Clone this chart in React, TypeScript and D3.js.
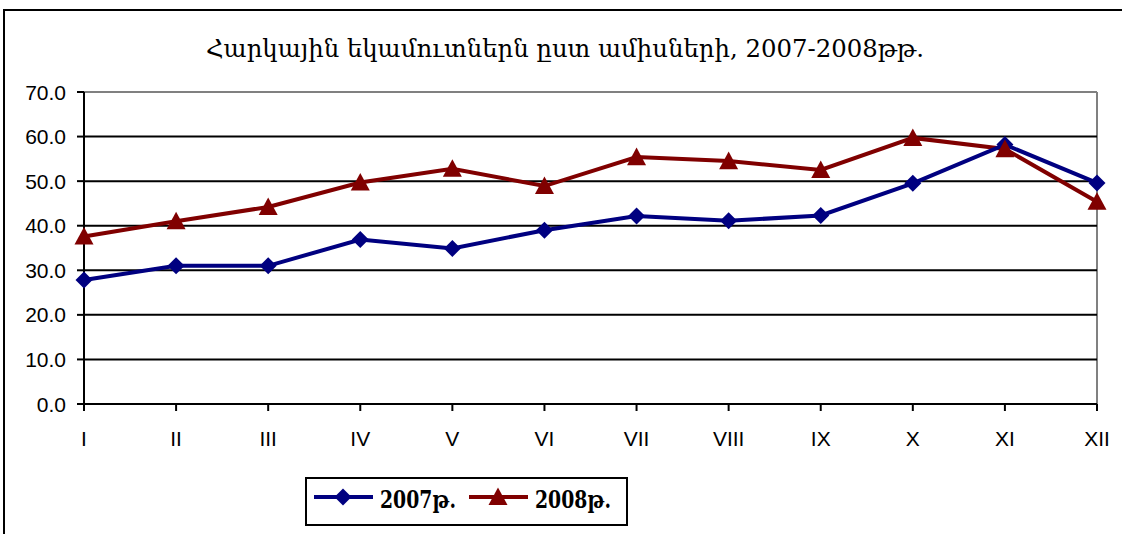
import React from "react";
import * as d3 from "d3";

// months (roman numerals) and tax revenue per month
const months = ["I", "II", "III", "IV", "V", "VI", "VII", "VIII", "IX", "X", "XI", "XII"];
const revenue2007 = [27.8, 31.0, 31.0, 36.9, 34.9, 39.0, 42.2, 41.1, 42.3, 49.5, 58.2, 49.6];
const revenue2008 = [37.6, 41.0, 44.2, 49.7, 52.8, 48.9, 55.4, 54.5, 52.5, 59.7, 57.2, 45.4];
const yTicks = [0, 10, 20, 30, 40, 50, 60, 70];

const W = 1122;
const H = 534;
const BLUE = "#000080";
const RED = "#800000";

export default function App() {
  const x = d3.scalePoint<string>().domain(months).range([84, 1097]);
  const y = d3.scaleLinear().domain([0, 70]).range([404, 92]);

  const line = d3
    .line<number>()
    .x((d, i) => x(months[i]) as number)
    .y((d) => y(d));

  const diamond = (cx: number, cy: number, r = 8.5) =>
    `M${cx},${cy - r}L${cx + r},${cy}L${cx},${cy + r}L${cx - r},${cy}Z`;
  const triangle = (cx: number, cy: number, r = 9.5) =>
    `M${cx},${cy - r}L${cx + r},${cy + r * 0.85}L${cx - r},${cy + r * 0.85}Z`;

  const axisFont = "'Liberation Sans', Arial, sans-serif";
  const serif = "'DejaVu Serif', 'Liberation Serif', serif";

  return (
    <svg
      width={W}
      height={H}
      style={{ position: "absolute", left: 0, top: 0, background: "#fff" }}
    >
      {/* outer chart frame */}
      <rect x={4} y={10} width={W + 10} height={H + 10} fill="#fff" stroke="#000" strokeWidth={2} />

      {/* title */}
      <text
        x={565}
        y={57}
        textAnchor="middle"
        fontFamily={serif}
        fontSize={25}
        textLength={718}
        lengthAdjust="spacingAndGlyphs"
      >
        Հարկային եկամուտներն ըստ ամիսների, 2007-2008թթ.
      </text>

      {/* plot frame right/top in gray */}
      <line x1={84} x2={1097} y1={y(70)} y2={y(70)} stroke="#808080" strokeWidth={2} />
      <line x1={1097} x2={1097} y1={y(70)} y2={y(0)} stroke="#808080" strokeWidth={2} />

      {/* grid lines + y ticks */}
      {yTicks.map((t) => (
        <g key={t}>
          {t > 0 && t < 70 && (
            <line x1={84} x2={1097} y1={y(t)} y2={y(t)} stroke="#000" strokeWidth={2} />
          )}
          <line x1={77} x2={84} y1={y(t)} y2={y(t)} stroke="#000" strokeWidth={2} />
          <text
            x={66}
            y={y(t) + 7.5}
            textAnchor="end"
            fontFamily={axisFont}
            fontSize={21}
          >
            {t.toFixed(1)}
          </text>
        </g>
      ))}

      {/* axes */}
      <line x1={84} x2={84} y1={y(70)} y2={y(0)} stroke="#000" strokeWidth={2} />
      <line x1={84} x2={1097} y1={y(0)} y2={y(0)} stroke="#000" strokeWidth={2} />
      {months.map((m) => (
        <g key={m}>
          <line
            x1={x(m) as number}
            x2={x(m) as number}
            y1={y(0)}
            y2={y(0) + 7}
            stroke="#000"
            strokeWidth={2}
          />
          <text
            x={x(m) as number}
            y={y(0) + 42}
            textAnchor="middle"
            fontFamily={axisFont}
            fontSize={21}
          >
            {m}
          </text>
        </g>
      ))}

      {/* series 2008 */}
      <path d={line(revenue2008) || ""} fill="none" stroke={RED} strokeWidth={4} />
      {/* series 2007 */}
      <path d={line(revenue2007) || ""} fill="none" stroke={BLUE} strokeWidth={4} />
      {revenue2007.map((v, i) => (
        <path key={"d" + i} d={diamond(x(months[i]) as number, y(v))} fill={BLUE} />
      ))}
      {revenue2008.map((v, i) => (
        <path key={"t" + i} d={triangle(x(months[i]) as number, y(v))} fill={RED} />
      ))}

      {/* legend */}
      <rect x={306} y={478} width={321} height={47} fill="#fff" stroke="#000" strokeWidth={2} />
      <line x1={314} x2={373} y1={497} y2={497} stroke={BLUE} strokeWidth={4} />
      <path d={diamond(343, 497)} fill={BLUE} />
      <text
        x={380}
        y={508}
        fontFamily={serif}
        fontSize={24}
        fontWeight="bold"
        textLength={76}
        lengthAdjust="spacingAndGlyphs"
      >
        2007թ.
      </text>
      <line x1={469} x2={528} y1={497} y2={497} stroke={RED} strokeWidth={4} />
      <path d={triangle(498, 497)} fill={RED} />
      <text
        x={535}
        y={508}
        fontFamily={serif}
        fontSize={24}
        fontWeight="bold"
        textLength={76}
        lengthAdjust="spacingAndGlyphs"
      >
        2008թ.
      </text>
    </svg>
  );
}
